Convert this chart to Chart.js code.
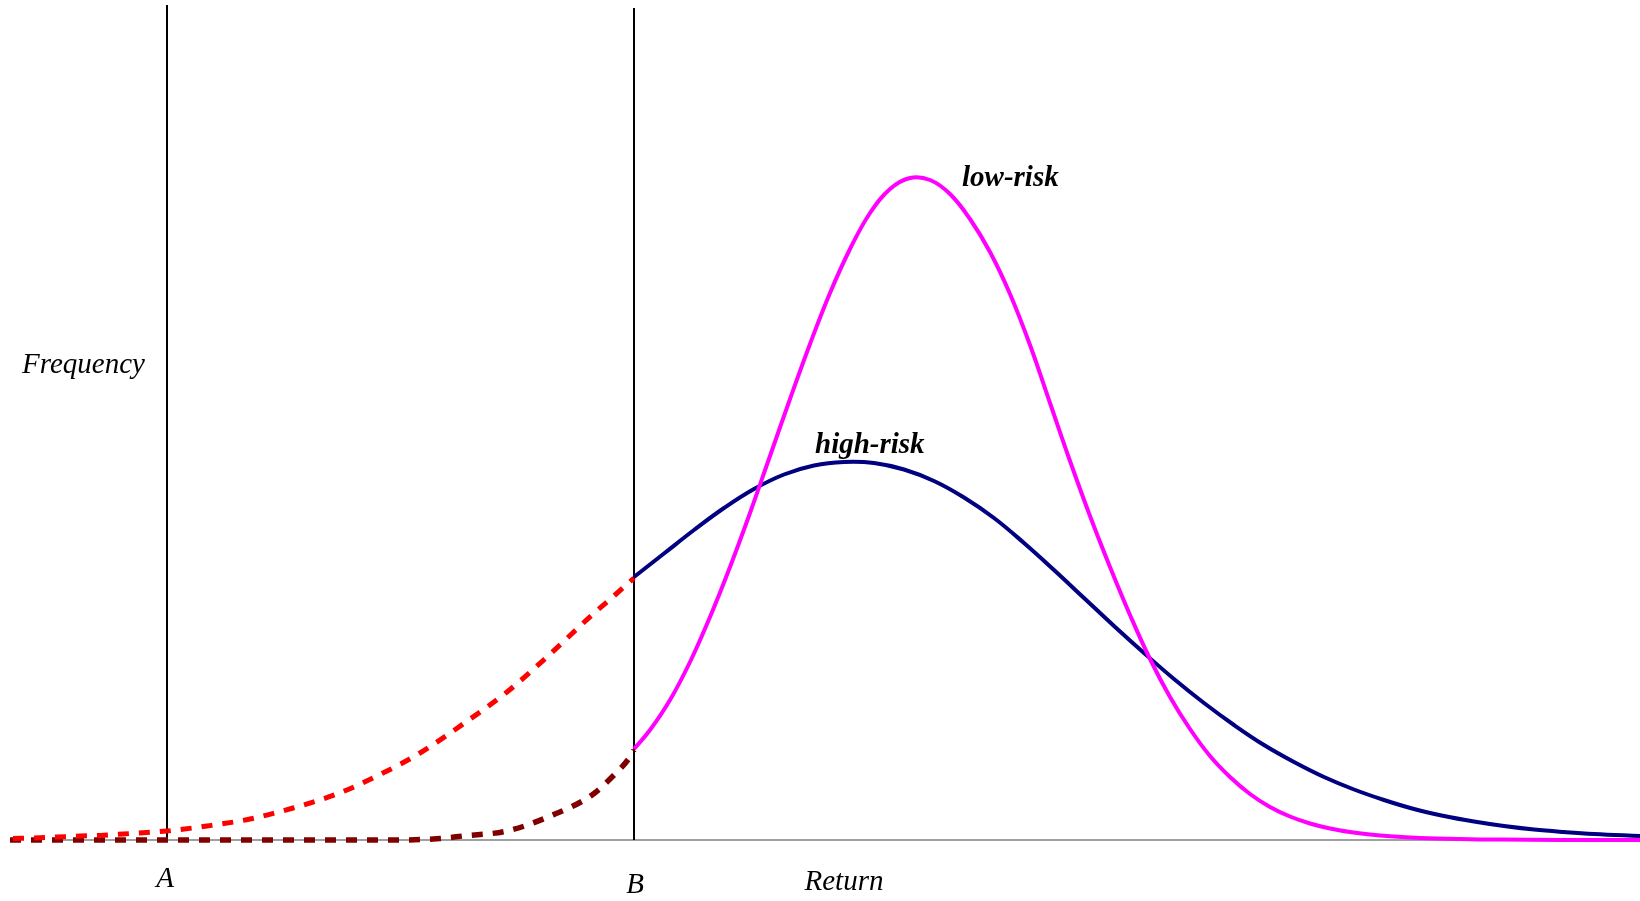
<!DOCTYPE html>
<html>
<head>
<meta charset="utf-8">
<script src="https://cdn.jsdelivr.net/npm/chart.js@4.4.1/dist/chart.umd.min.js"></script>
<style>
  body { margin: 0; background: #fff; }
  #wrap { width: 1640px; height: 901px; position: relative; }
</style>
</head>
<body>
<div id="wrap"><canvas id="riskChart"></canvas></div>
<script>
// Return values (x) and frequency (y)
const lowX = [63.4, 65, 67, 69, 71, 73, 75, 77, 79, 81, 83, 85, 87, 89, 91, 93, 95, 97, 99, 101, 103, 105, 107, 109, 111, 113, 115, 117, 119, 121, 123, 125, 127, 129, 131, 133, 135, 137, 139, 142, 146, 150, 156, 164];
const lowY = [9.1, 11.0, 14.0, 17.8, 22.3, 27.3, 32.7, 38.4, 44.1, 49.6, 54.7, 59.1, 62.7, 65.1, 66.2, 66.0, 64.6, 62.1, 58.8, 54.6, 49.5, 43.7, 37.9, 32.4, 27.3, 22.5, 18.1, 14.3, 11.1, 8.4, 6.3, 4.6, 3.3, 2.35, 1.65, 1.15, 0.8, 0.55, 0.37, 0.2, 0.09, 0.04, 0.01, 0];

const highX = [63.4, 66.4, 69.4, 72.4, 75.4, 78.4, 81.4, 84.4, 87.4, 90.4, 93.4, 96.4, 99.4, 102.4, 105.4, 108.4, 111.4, 114.4, 117.4, 120.4, 123.4, 126.4, 129.4, 132.4, 135.4, 138.4, 141.4, 144.4, 147.4, 150.4, 153.4, 156.4, 159.4, 164];
const highY = [26.3, 28.65, 31.0, 33.2, 35.1, 36.55, 37.45, 37.8, 37.7, 37.05, 35.9, 34.25, 32.2, 29.7, 27.0, 24.2, 21.4, 18.7, 16.1, 13.7, 11.5, 9.5, 7.8, 6.3, 5.05, 4.0, 3.1, 2.4, 1.85, 1.4, 1.05, 0.8, 0.6, 0.4];

// left tails, shown dashed
const highTailX = [1.3, 3.3, 5.7, 8, 10, 12.3, 14.3, 16.7, 20.7, 25, 29.3, 33.7, 37.7, 42, 46.3, 50.7, 54.8, 59.2, 61.5, 63.4];
const highTailY = [0.15, 0.2, 0.3, 0.4, 0.45, 0.6, 0.73, 0.9, 1.4, 2.1, 3.2, 4.6, 6.4, 8.7, 11.6, 14.8, 18.4, 22.5, 24.5, 26.2];

const lowTailX = [1, 20, 40, 44, 46.3, 50.7, 54.8, 59.2, 61.2, 63, 63.4];
const lowTailY = [0, 0, 0, 0.15, 0.4, 0.9, 2.3, 4.5, 6.3, 8.3, 9];

// reference lines A and B
const markerX = [16.7, 63.4];
const markerTop = [83.5, 83.2];
const baseX = [6.3, 164];

function pts(xs, ys) {
  return xs.map((x, i) => ({ x: x, y: ys[i] }));
}

// text drawn on top of the plot
const labelPlugin = {
  id: 'labels',
  afterDraw(chart) {
    const ctx = chart.ctx;
    const xs = chart.scales.x;
    const ys = chart.scales.y;
    const items = [
      { t: 'Frequency', x: 2.2, y: 46.7, f: 'italic 29px "Liberation Serif"', a: 'left' },
      { t: 'low-risk', x: 96.2, y: 65.4, f: 'bold italic 29px "Liberation Serif"', a: 'left' },
      { t: 'high-risk', x: 81.5, y: 38.7, f: 'bold italic 29px "Liberation Serif"', a: 'left' },
      { t: 'A', x: 16.5, y: -4.7, f: 'italic 29px "Liberation Serif"', a: 'center' },
      { t: 'B', x: 63.5, y: -5.3, f: 'italic 29px "Liberation Serif"', a: 'center' },
      { t: 'Return', x: 84.4, y: -5.0, f: 'italic 29px "Liberation Serif"', a: 'center' }
    ];
    ctx.save();
    ctx.fillStyle = '#000';
    ctx.textBaseline = 'alphabetic';
    items.forEach((it) => {
      ctx.font = it.f;
      ctx.textAlign = it.a;
      ctx.fillText(it.t, xs.getPixelForValue(it.x), ys.getPixelForValue(it.y));
    });
    ctx.restore();
  }
};

new Chart(document.getElementById('riskChart'), {
  type: 'line',
  data: {
    datasets: [
      {
        label: 'low-risk',
        data: pts(lowX, lowY),
        borderColor: '#ff00ff',
        borderWidth: 4,
        tension: 0.4,
        pointRadius: 0,
        clip: false
      },
      {
        label: 'high-risk',
        data: pts(highX, highY),
        borderColor: '#000080',
        borderWidth: 4,
        tension: 0.4,
        pointRadius: 0,
        clip: false
      },
      {
        label: 'high-risk tail',
        data: pts(highTailX, highTailY),
        borderColor: '#ff0000',
        borderWidth: 5,
        borderDash: [11, 10],
        cubicInterpolationMode: 'monotone',
        pointRadius: 0,
        clip: false
      },
      {
        label: 'low-risk tail',
        data: pts(lowTailX, lowTailY),
        borderColor: '#800000',
        borderWidth: 5.5,
        borderDash: [11, 10],
        cubicInterpolationMode: 'monotone',
        pointRadius: 0,
        clip: false
      },
      {
        label: 'A',
        data: [{ x: markerX[0], y: 0 }, { x: markerX[0], y: markerTop[0] }],
        borderColor: '#000',
        borderWidth: 2,
        pointRadius: 0
      },
      {
        label: 'B',
        data: [{ x: markerX[1], y: 0 }, { x: markerX[1], y: markerTop[1] }],
        borderColor: '#000',
        borderWidth: 2,
        pointRadius: 0
      },
      {
        label: 'axis',
        data: [{ x: baseX[0], y: 0 }, { x: baseX[1], y: 0 }],
        borderColor: '#808080',
        borderWidth: 1.5,
        pointRadius: 0,
        clip: false
      }
    ]
  },
  options: {
    responsive: true,
    maintainAspectRatio: false,
    animation: false,
    layout: { padding: { left: 0, right: 0, top: 0, bottom: 61 } },
    plugins: {
      legend: { display: false },
      tooltip: { enabled: false }
    },
    scales: {
      x: { type: 'linear', min: 0, max: 164, display: false },
      y: { min: 0, max: 84, display: false }
    }
  },
  plugins: [labelPlugin]
});
</script>
</body>
</html>
